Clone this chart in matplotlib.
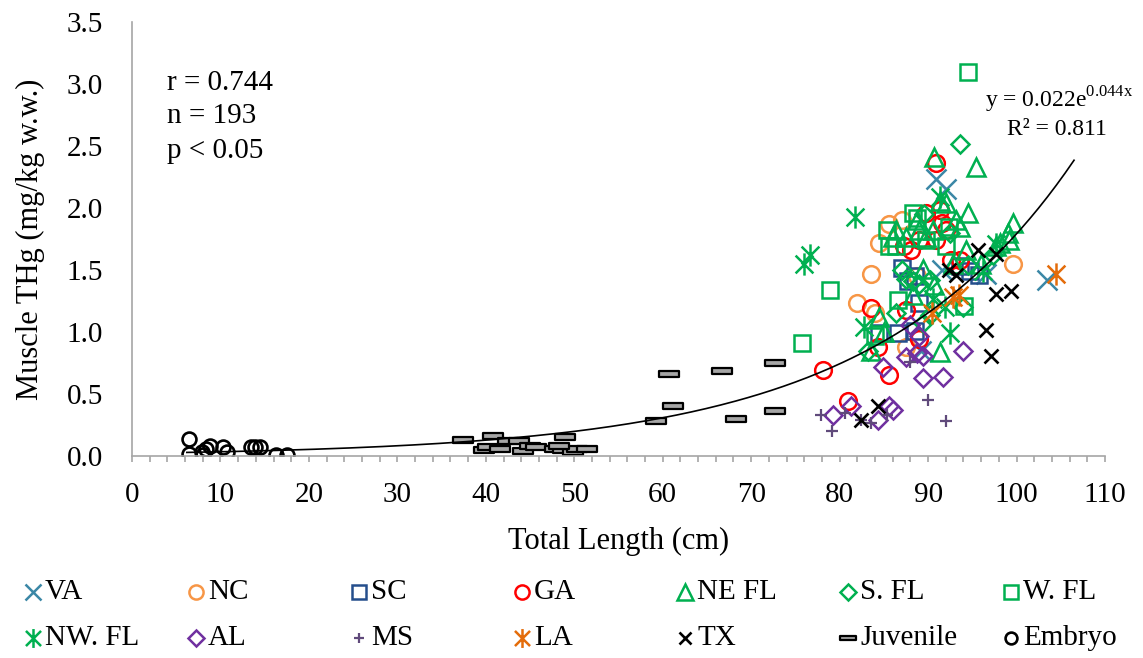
import numpy as np
import matplotlib.pyplot as plt
from matplotlib.path import Path
from matplotlib.lines import Line2D

plt.rcParams['font.family'] = ['Liberation Serif', 'DejaVu Serif']
plt.rcParams['mathtext.fontset'] = 'custom'
plt.rcParams['mathtext.rm'] = 'Liberation Serif'

# ---- data ----
va_x = [90.9, 92.0, 91.6, 96.6, 89.2, 103.4]
va_y = [2.23, 2.15, 1.50, 1.47, 0.85, 1.42]

nc_x = [82.0, 83.6, 84.5, 85.6, 87.1, 87.5, 84.0, 99.6, 88.8]
nc_y = [1.23, 1.47, 1.72, 1.87, 1.90, 0.88, 1.15, 1.55, 1.45]

sc_x = [84.5, 86.6, 87.0, 87.7, 88.5, 89.0, 88.5, 93.6, 94.7, 95.8]
sc_y = [0.99, 0.99, 1.52, 1.41, 1.45, 1.23, 1.01, 1.53, 1.49, 1.46]

ga_x = [78.1, 80.9, 83.6, 84.3, 85.6, 87.5, 89.0, 87.3, 88.1, 89.0, 89.8,
        90.9, 91.3, 91.6, 92.0, 90.9, 93.6, 92.6]
ga_y = [0.69, 0.44, 1.19, 0.88, 0.65, 1.18, 0.94, 1.69, 1.66, 1.74, 1.96,
        2.36, 1.98, 1.88, 1.82, 1.74, 1.58, 1.58]

nefl_x = [90.7, 95.4, 91.3, 92.0, 94.5, 99.6, 88.7, 89.0, 86.4, 86.0, 87.5,
          93.2, 93.6, 99.2, 97.7, 90.5, 89.8, 94.3, 89.4, 84.4, 91.4, 83.6,
          90.7, 92.8, 96.0, 88.3, 85.0, 99.0, 98.1]
nefl_y = [2.41, 2.33, 2.06, 2.04, 1.96, 1.88, 1.90, 1.82, 1.82, 1.77, 1.77,
          1.90, 1.85, 1.74, 1.69, 1.82, 1.77, 1.66, 1.51, 1.12, 0.84, 0.85,
          1.38, 1.55, 1.55, 1.30, 1.00, 1.80, 1.72]

sfl_x = [83.2, 86.4, 87.1, 87.5, 88.3, 89.0, 89.4, 90.2, 90.2, 93.9, 94.5,
         97.3, 93.6, 92.5, 89.5]
sfl_y = [0.85, 1.15, 1.50, 1.43, 1.41, 1.39, 1.07, 1.14, 1.42, 1.20, 1.54,
         1.62, 2.52, 1.80, 1.95]

wfl_x = [75.7, 78.9, 84.0, 86.6, 94.1, 85.3, 86.4, 88.7, 89.8, 92.4, 92.0,
         94.5, 88.3, 85.6]
wfl_y = [0.91, 1.34, 0.97, 1.26, 1.21, 1.82, 1.69, 1.92, 1.74, 1.85, 1.69,
         3.10, 1.96, 1.69]

nwfl_x = [76.0, 76.6, 81.7, 82.8, 90.5, 91.3, 91.9, 92.5, 96.2, 97.7]
nwfl_y = [1.55, 1.62, 1.93, 1.04, 1.27, 2.09, 1.20, 0.99, 1.49, 1.71]

al_x = [79.2, 81.3, 84.3, 85.6, 86.0, 84.9, 87.5, 87.9, 89.0, 89.4, 89.4,
        91.7, 93.9, 88.7]
al_y = [0.33, 0.40, 0.29, 0.40, 0.37, 0.72, 0.80, 1.06, 0.97, 0.81, 0.63,
        0.64, 0.85, 0.83]

ms_x = [77.9, 79.1, 80.6, 82.4, 83.5, 85.3, 87.9, 90.0, 92.0]
ms_y = [0.33, 0.20, 0.35, 0.29, 0.27, 0.33, 0.76, 0.45, 0.28]

la_x = [90.4, 92.8, 93.5, 104.5]
la_y = [1.15, 1.28, 1.30, 1.47]

tx_x = [82.4, 84.3, 92.4, 93.2, 95.6, 97.7, 97.7, 99.4, 96.6, 97.1]
tx_y = [0.29, 0.40, 1.50, 1.46, 1.66, 1.63, 1.31, 1.33, 1.02, 0.81]

juv_x = [37.4, 40.8, 39.8, 40.3, 41.6, 42.5, 43.8, 44.2, 45.0, 45.7, 48.9,
         47.8, 48.7, 49.9, 50.3, 51.4, 48.3, 59.2, 60.7, 61.2, 66.7, 68.3,
         72.7, 72.7]
juv_y = [0.13, 0.16, 0.05, 0.075, 0.06, 0.12, 0.12, 0.04, 0.08, 0.075, 0.155,
         0.06, 0.05, 0.03, 0.06, 0.055, 0.08, 0.28, 0.66, 0.40, 0.685, 0.30,
         0.75, 0.365]

emb_x = [6.4, 6.5, 7.9, 8.0, 8.8, 8.4, 10.3, 10.7, 13.5, 13.9, 14.5, 16.3, 17.5]
emb_y = [0.14, 0.02, 0.035, 0.01, 0.08, 0.06, 0.075, 0.035, 0.07, 0.07, 0.075,
         0.01, 0.01]

labels = ['VA', 'NC', 'SC', 'GA', 'NE FL', 'S. FL', 'W. FL',
          'NW. FL', 'AL', 'MS', 'LA', 'TX', 'Juvenile', 'Embryo']

# exponential trendline y = a e^(b x)
fit_a, fit_b = 0.022, 0.044

# ---- markers ----
star = Path([(0, -1), (0, 1), (-0.8, -0.8), (0.8, 0.8), (-0.8, 0.8), (0.8, -0.8)],
            [Path.MOVETO, Path.LINETO, Path.MOVETO, Path.LINETO, Path.MOVETO, Path.LINETO])
dash = Path([(-1, -0.3), (1, -0.3), (1, 0.3), (-1, 0.3), (-1, -0.3)],
            [Path.MOVETO, Path.LINETO, Path.LINETO, Path.LINETO, Path.CLOSEPOLY])

green = '#00B050'
styles = [
    dict(marker='x', ms=14, mec='#3B87A6', mew=1.8),
    dict(marker='o', ms=12, mec='#F79646', mew=1.8),
    dict(marker='s', ms=12, mec='#254E8C', mew=1.8),
    dict(marker='o', ms=12, mec='#FF0000', mew=1.8),
    dict(marker='^', ms=13, mec=green, mew=1.8),
    dict(marker='D', ms=9.5, mec=green, mew=1.8),
    dict(marker='s', ms=12, mec=green, mew=1.8),
    dict(marker=star, ms=16, mec=green, mew=1.8),
    dict(marker='D', ms=9.5, mec='#7030A0', mew=1.8),
    dict(marker='+', ms=9, mec='#604A7B', mew=1.6),
    dict(marker=star, ms=16, mec='#E46C0A', mew=1.8),
    dict(marker='x', ms=10, mec='black', mew=1.9),
    dict(marker=dash, ms=14, mec='black', mew=1.6, mfc='#A6A6A6'),
    dict(marker='o', ms=10, mec='black', mew=1.9),
]

series = [(va_x, va_y), (nc_x, nc_y), (sc_x, sc_y), (ga_x, ga_y),
          (nefl_x, nefl_y), (sfl_x, sfl_y), (wfl_x, wfl_y), (nwfl_x, nwfl_y),
          (al_x, al_y), (ms_x, ms_y), (la_x, la_y), (tx_x, tx_y),
          (juv_x, juv_y), (emb_x, emb_y)]

W, H = 1143, 658
fig = plt.figure(figsize=(W / 100, H / 100), dpi=100)
ax = fig.add_axes([132 / W, (H - 456) / H, (1105 - 132) / W, (456 - 22) / H])

for (x, y), st in zip(series, styles):
    st = dict(st)
    st.setdefault('mfc', 'none')
    ax.plot(x, y, linestyle='none', **st)

xs = np.linspace(6.2, 106.5, 300)
ax.plot(xs, fit_a * np.exp(fit_b * xs), color='black', lw=1.2, zorder=5)

ax.set_xlim(0, 110)
ax.set_ylim(0, 3.5)
ax.set_xticks(np.arange(0, 111, 10))
ax.set_xticks(np.arange(0, 111, 2), minor=True)
ax.set_yticks(np.arange(0, 3.51, 0.5))
ax.set_yticklabels([f'{v:.1f}' for v in np.arange(0, 3.51, 0.5)])
for s in ['top', 'right']:
    ax.spines[s].set_visible(False)
for s in ['left', 'bottom']:
    ax.spines[s].set_color('#A6A6A6')
    ax.spines[s].set_linewidth(1.2)
ax.tick_params(axis='x', which='both', direction='out', length=4, width=1.2,
               color='#A6A6A6', labelsize=21, pad=15)
ax.tick_params(axis='y', length=0, labelsize=21, pad=21)
ax.set_xlabel('Total Length (cm)', fontsize=22, labelpad=13)
ax.set_ylabel('Muscle THg (mg/kg w.w.)', fontsize=22, labelpad=15)

ax.text(4.0, 3.01, 'r = 0.744', fontsize=21, va='center')
ax.text(4.0, 2.74, 'n = 193', fontsize=21, va='center')
ax.text(4.0, 2.46, 'p < 0.05', fontsize=21, va='center')
ax.text(96.4, 2.87, r'y = 0.022e$^{\mathregular{0.044x}}$', fontsize=17, ha='left', va='center')
ax.text(98.9, 2.63, 'R² = 0.811', fontsize=17, ha='left', va='center')

# legend laid out like the spreadsheet one: 2 rows x 7 columns
for i, (lab, st) in enumerate(zip(labels, styles)):
    row, col = divmod(i, 7)
    px = 33 + 163 * col
    py = 592 + 46 * row
    st = dict(st)
    st.setdefault('mfc', 'none')
    st['ms'] = st['ms'] * 0.85
    fig.add_artist(Line2D([px / W], [1 - py / H], transform=fig.transFigure,
                          linestyle='none', **st))
    fig.text((px + 12) / W, 1 - py / H, lab, fontsize=21, va='center', ha='left')

fig.savefig('out.png', dpi=100)
